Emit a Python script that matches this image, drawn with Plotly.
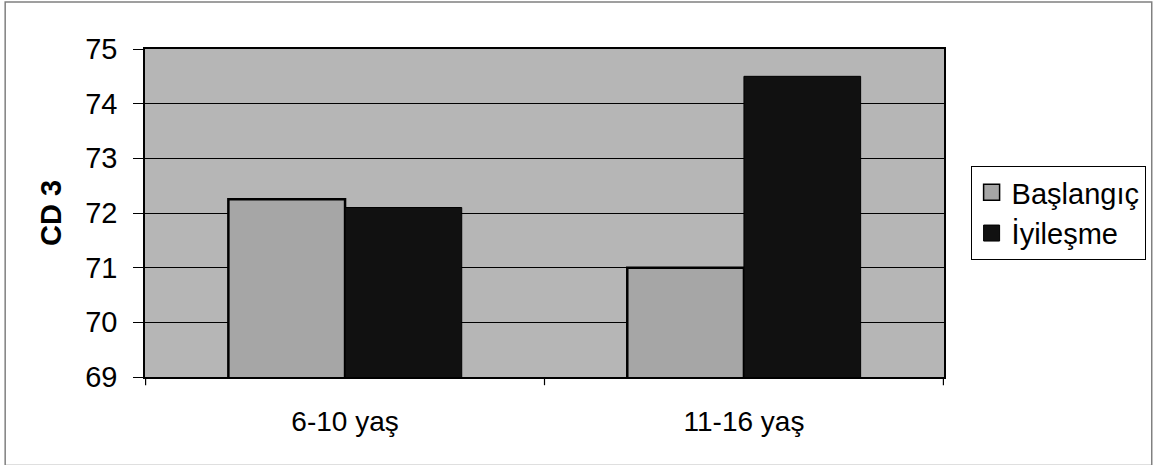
import plotly.graph_objects as go

# CD3 values by age group, at baseline and at recovery
categories = ["6-10 yaş", "11-16 yaş"]
baslangic = [72.25, 71.0]
iyilesme = [72.1, 74.5]
y_ticks = [69, 70, 71, 72, 73, 74, 75]

FONT = "Liberation Sans, Arial, sans-serif"
C_BAS = "#a6a6a6"
C_IYI = "#111111"

fig = go.Figure()
fig.add_trace(go.Bar(
    x=categories, y=baslangic, name="Başlangıç", showlegend=False,
    marker=dict(color=C_BAS, line=dict(color="#000000", width=2.5)),
))
fig.add_trace(go.Bar(
    x=categories, y=iyilesme, name="İyileşme", showlegend=False,
    marker=dict(color=C_IYI, line=dict(color="#000000", width=1)),
))

# legend entries drawn as square swatches
fig.add_trace(go.Scatter(
    x=[None], y=[None], mode="markers", name="Başlangıç",
    marker=dict(symbol="square", size=16, color=C_BAS, line=dict(color="#000000", width=1.5)),
))
fig.add_trace(go.Scatter(
    x=[None], y=[None], mode="markers", name="İyileşme",
    marker=dict(symbol="square", size=16, color=C_IYI, line=dict(color="#000000", width=1)),
))

fig.update_layout(
    width=1157, height=465,
    margin=dict(l=145, r=212, t=49, b=88),
    paper_bgcolor="#ffffff",
    plot_bgcolor="#b6b6b6",
    barmode="group",
    bargap=0.415,
    bargroupgap=0,
    font=dict(family=FONT, color="#000000", size=28),
    xaxis=dict(
        type="category",
        showgrid=False,
        showline=True, linecolor="#000000", linewidth=1.5,
        ticks="", tickfont=dict(size=28, family=FONT),
        ticklabelstandoff=19,
        mirror=True,
    ),
    yaxis=dict(
        range=[69, 75],
        tickvals=y_ticks,
        showgrid=True, gridcolor="#000000", gridwidth=1,
        showline=True, linecolor="#000000", linewidth=1.5,
        mirror=True,
        ticks="outside", ticklen=10, tickcolor="#000000",
        ticklabelstandoff=10,
        tickfont=dict(size=29, family=FONT),
        title=dict(text="<b>CD 3</b>", font=dict(size=29, family=FONT), standoff=15),
        zeroline=False,
    ),
    legend=dict(
        x=1.032, y=0.5, xanchor="left", yanchor="middle",
        bgcolor="#ffffff", bordercolor="#000000", borderwidth=1,
        font=dict(size=29, family=FONT),
        tracegroupgap=0, itemwidth=30,
    ),
    shapes=[
        # category boundary ticks on the x axis
        dict(type="line", xref="x", yref="paper", x0=x, x1=x, y0=0, y1=-0.025,
             line=dict(color="#000000", width=1.2))
        for x in [-0.5, 0.5, 1.5]
    ] + [
        # outer chart frame
        dict(type="rect", xref="paper", yref="paper",
             x0=-0.175, x1=1.26, y0=-0.27, y1=1.143,
             line=dict(color="#808080", width=1.5)),
    ],
)

fig.write_html("out.html")
